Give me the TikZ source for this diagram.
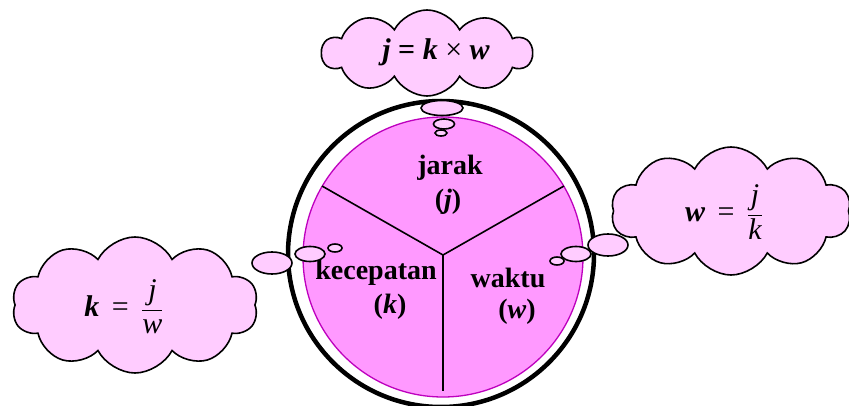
\documentclass[tikz,border=0pt]{standalone}
\usepackage{fontspec}
\setmainfont{Liberation Serif}
\usepackage{amsmath}
\usetikzlibrary{shapes.symbols,shapes.geometric}
\definecolor{cloudpink}{RGB}{255,204,255}
\definecolor{innerpink}{RGB}{255,153,255}
\definecolor{ringpurple}{RGB}{190,0,190}
\tikzset{
  thought/.style={cloud, cloud puffs=10, cloud puff arc=125, draw=black, line width=1.6pt, fill=cloudpink, inner sep=0pt},
  bubble/.style={ellipse, draw=black, line width=1.6pt, fill=cloudpink, inner sep=0pt},
  lab/.style={font=\fontsize{28}{30}\selectfont\bfseries, inner sep=0pt},
  eq/.style={font=\fontsize{30}{32}\selectfont, inner sep=0pt},
  spoke/.style={draw=black, line width=1.6pt}
}
\begin{document}
\begin{tikzpicture}[x=1pt,y=-1pt]
\useasboundingbox (0,0) rectangle (849,406);
% clouds
\node[thought, minimum width=210pt, minimum height=86pt] (topcloud) at (427,53) {};
\node[thought, minimum width=240pt, minimum height=128pt] (rightcloud) at (731,211) {};
\node[thought, minimum width=246pt, minimum height=136pt] (leftcloud) at (135,305) {};
% main circle
\node[circle, draw=black, line width=4.5pt, fill=white, minimum size=306pt, inner sep=0pt] (outer) at (441,254) {};
\node[circle, draw=ringpurple, line width=1.3pt, fill=innerpink, minimum size=280pt, inner sep=0pt] (inner) at (443,257) {};
\coordinate (c) at (443,255);
\coordinate (endul) at (322,186);
\coordinate (endur) at (564,186);
\coordinate (endd) at (443,391);
\draw[spoke] (c) -- (endul);
\draw[spoke] (c) -- (endur);
\draw[spoke] (c) -- (endd);
% labels
\node[lab] (jarak) at (450,168) {jarak};
\node[lab] (jsym) at (448,202) {(\textit{j})};
\node[lab] (kec) at (376,273) {kecepatan};
\node[lab] (ksym) at (390,307) {(\textit{k})};
\node[lab] (waktu) at (508,278) {waktu};
\node[lab] (wsym) at (517,312) {(\textit{w})};
% bubbles top
\node[bubble, minimum width=42pt, minimum height=15pt] (tb1) at (442,108) {};
\node[bubble, minimum width=21pt, minimum height=10pt] (tb2) at (444,124) {};
\node[bubble, minimum width=12pt, minimum height=6pt] (tb3) at (441,133) {};
% bubbles left
\node[bubble, minimum width=40pt, minimum height=22pt] (lb1) at (272,263) {};
\node[bubble, minimum width=30pt, minimum height=15pt] (lb2) at (310,254) {};
\node[bubble, minimum width=14pt, minimum height=8pt] (lb3) at (335,248) {};
% bubbles right
\node[bubble, minimum width=40pt, minimum height=22pt] (rb1) at (608,245) {};
\node[bubble, minimum width=30pt, minimum height=15pt] (rb2) at (576,254) {};
\node[bubble, minimum width=14pt, minimum height=8pt] (rb3) at (557,261) {};
% equations
\node[eq] (eqtop) at (436,52) {{\bfseries\itshape j} {\bfseries =} {\bfseries\itshape k} × {\bfseries\itshape w}};
\node[eq] (eqright) at (724,212) {{\bfseries\itshape w}\, = \,$\dfrac{\textit{j}}{\textit{k}}$};
\node[eq] (eqleft) at (124,307) {{\bfseries\itshape k}\, = \,$\dfrac{\textit{j}}{\textit{w}}$};
\end{tikzpicture}
\end{document}
